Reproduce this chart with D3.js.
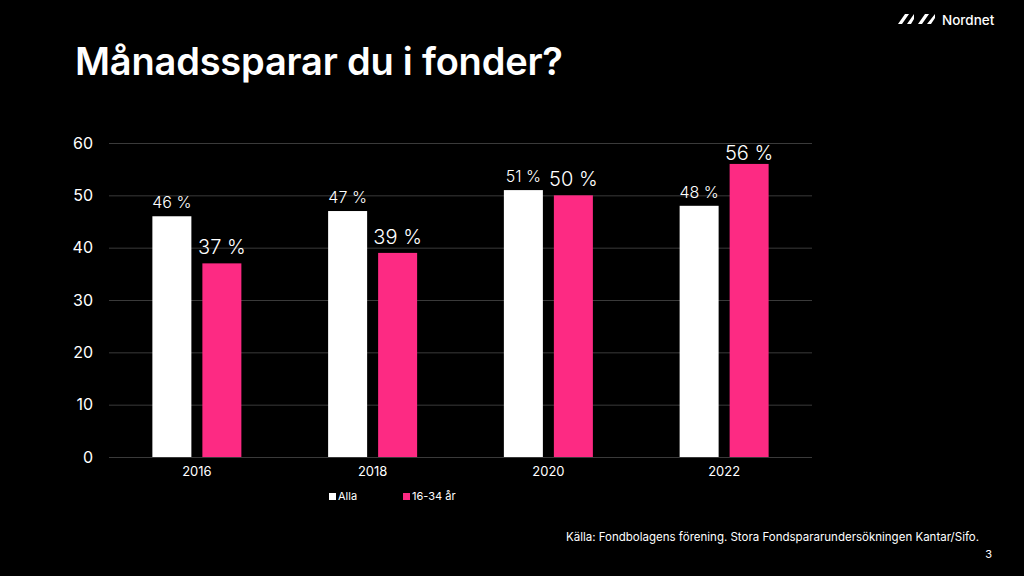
<!DOCTYPE html>
<html>
<head>
<meta charset="utf-8">
<script src="https://cdn.jsdelivr.net/npm/d3@7"></script>
<style>
  body { margin: 0; background: #000; }
  svg { display: block; font-family: Inter, "Noto Sans", sans-serif; }
</style>
</head>
<body>
<svg id="chart" width="1024" height="576"></svg>
<script>
// data
var years = ["2016", "2018", "2020", "2022"]
var alla = [46, 47, 51, 48]
var unga = [37, 39, 50, 56]
var yTicks = [0, 10, 20, 30, 40, 50, 60]
var seriesNames = ["Alla", "16-34 år"]
var colors = ["#ffffff", "#fd2a83"]

var svg = d3.select("#chart")
svg.append("rect").attr("width", 1024).attr("height", 576).attr("fill", "#000")

var margin = { left: 109, right: 212, top: 143, bottom: 119 }
var width = 1024 - margin.left - margin.right
var height = 576 - margin.top - margin.bottom

// title
svg.append("text")
    .attr("x", 75).attr("y", 75)
    .attr("fill", "#fff")
    .style("font-size", "38px")
    .style("font-weight", "600")
    .style("letter-spacing", "-0.2px")
    .text("Månadssparar du i fonder?")

// logo
var logo = svg.append("g").attr("transform", "translate(898,14)")
logo.append("path").attr("d", "M0,10 L4,10 L11,0 L7,0 Z M9,10 L13,10 L16,5 L16,0 Z").attr("fill", "#fff")
logo.append("path").attr("d", "M20,10 L24,10 L31,0 L27,0 Z M29,10 L33,10 L37,4 L37,0 Z").attr("fill", "#fff")
svg.append("text").attr("x", 942).attr("y", 25)
    .attr("fill", "#fff").style("font-size", "13.5px").style("font-weight", "500")
    .text("Nordnet")

var g = svg.append("g").attr("transform", "translate(" + margin.left + "," + margin.top + ")")

var x = d3.scaleBand().domain(years).range([0, width])
var y = d3.scaleLinear().domain([0, 60]).range([height, 0])

// gridlines
g.append("g")
    .call(d3.axisLeft(y).tickValues(yTicks).tickSize(-width).tickFormat(""))
    .call(function(a) { a.select(".domain").remove() })
    .selectAll("line").attr("stroke", "#3a3a3a").attr("stroke-width", 1)

// y axis labels
g.append("g")
    .call(d3.axisLeft(y).tickValues(yTicks).tickSize(0).tickPadding(16))
    .call(function(a) { a.select(".domain").remove() })
    .selectAll("text")
    .attr("fill", "#fff")
    .style("font-size", "16px")
    .style("font-family", "Inter, sans-serif")

// x axis labels
g.append("g")
    .attr("transform", "translate(0," + height + ")")
    .call(d3.axisBottom(x).tickSize(0).tickPadding(10))
    .call(function(a) { a.select(".domain").remove() })
    .selectAll("text")
    .attr("fill", "#fff")
    .style("font-size", "13px")
    .style("font-family", "Inter, sans-serif")

var barW = 39
var gap = 5.5

// bars
var series = [alla, unga]
series.forEach(function(vals, s) {
    var bars = g.append("g")
    bars.selectAll("rect")
        .data(vals)
        .enter().append("rect")
        .attr("x", function(d, i) {
            var c = x(years[i]) + x.bandwidth() / 2
            return s == 0 ? c - gap - barW : c + gap
        })
        .attr("y", function(d) { return y(d) })
        .attr("width", barW)
        .attr("height", function(d) { return height - y(d) })
        .attr("fill", colors[s])
    //labels, kept inside the top of the plot
    bars.selectAll("text")
        .data(vals)
        .enter().append("text")
        .attr("x", function(d, i) {
            var c = x(years[i]) + x.bandwidth() / 2
            return s == 0 ? c - gap - barW / 2 : c + gap + barW / 2
        })
        .attr("y", function(d) { return Math.max(y(d) - (s == 0 ? 8 : 9), 17) })
        .attr("text-anchor", "middle")
        .attr("fill", "#fff")
        .style("font-size", s == 0 ? "16px" : "20px")
        .style("font-weight", "300")
        .text(function(d) { return d + " %" })
})

// legend
var legendX = [329, 403]
seriesNames.forEach(function(name, i) {
    svg.append("rect").attr("x", legendX[i]).attr("y", 493)
        .attr("width", 7).attr("height", 7).attr("fill", colors[i])
    svg.append("text").attr("x", legendX[i] + 9).attr("y", 500)
        .attr("fill", "#fff").style("font-size", "11px")
        .text(name)
})

// source
svg.append("text").attr("x", 566).attr("y", 541)
    .attr("fill", "#fff").style("font-size", "11.5px")
    .text("Källa: Fondbolagens förening. Stora Fondspararundersökningen Kantar/Sifo.")
svg.append("text").attr("x", 992).attr("y", 558)
    .attr("text-anchor", "end")
    .attr("fill", "#fff").style("font-size", "11px")
    .text("3")
</script>
</body>
</html>
